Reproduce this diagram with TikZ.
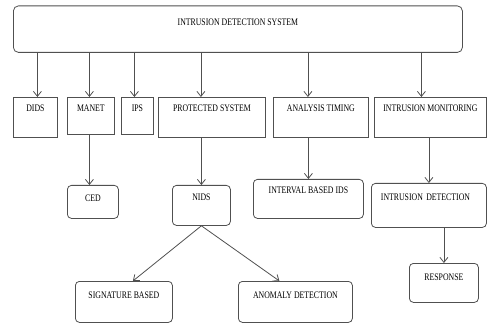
\documentclass[tikz,border=0pt]{standalone}
\usepackage{fontspec}
\usetikzlibrary{arrows.meta}
\newfontfamily\boxfont[FakeStretch=0.78]{Liberation Serif}
\definecolor{linegray}{HTML}{505050}

\begin{document}
\begin{tikzpicture}[x=1pt,y=-1pt]

      \useasboundingbox (0,0) rectangle (487,323);

      \begin{scope}[every node/.style={draw=linegray,line width=.8pt,anchor=north west,
          inner xsep=2pt,inner ysep=0pt,font=\boxfont\fontsize{10}{12}\selectfont}]
        % top
        \node[rounded corners=5pt,minimum width=449pt,text height=19.8pt,text depth=26.7pt] (ids) at (13,5.5) {INTRUSION DETECTION SYSTEM};
        % second row
        \node[minimum width=44pt,text height=14.3pt,text depth=25.7pt]  (dids)  at (13,97)  {DIDS};
        \node[minimum width=47pt,text height=14.3pt,text depth=22.7pt]  (manet) at (67,97)  {MANET};
        \node[minimum width=32pt,text height=14.3pt,text depth=22.7pt]  (ips)   at (121,97) {IPS};
        \node[minimum width=107pt,text height=14.3pt,text depth=25.7pt] (prot)  at (158,97) {PROTECTED SYSTEM};
        \node[minimum width=95pt,text height=14.3pt,text depth=25.7pt]  (anal)  at (273,97) {ANALYSIS TIMING};
        \node[minimum width=112pt,text height=14.3pt,text depth=25.7pt] (mon)   at (374,97) {INTRUSION MONITORING};
        % third row
        \node[rounded corners=4pt,minimum width=51pt,text height=16.3pt,text depth=16.7pt]  (ced)  at (67,185)  {CED};
        \node[rounded corners=4pt,minimum width=58pt,text height=15.3pt,text depth=24.7pt]  (nids) at (172,185) {NIDS};
        \node[rounded corners=4pt,minimum width=110pt,text height=14.3pt,text depth=24.7pt] (intv) at (253,179) {INTERVAL BASED IDS};
        \node[rounded corners=4pt,text width=96pt,inner xsep=9.5pt,align=left,
          text height=17.3pt,text depth=26.7pt] (idet) at (371,183) {INTRUSION DETECTION};
        % bottom
        \node[rounded corners=4pt,minimum width=69pt,text height=17.3pt,text depth=21.7pt]  (resp) at (409,263) {RESPONSE};
        \node[rounded corners=4pt,minimum width=97pt,text height=17.3pt,text depth=23.7pt]  (sig)  at (75,281)  {SIGNATURE BASED};
        \node[rounded corners=4pt,minimum width=114pt,text height=17.3pt,text depth=23.7pt] (anom) at (238,281) {ANOMALY DETECTION};
      \end{scope}

      \begin{scope}[every edge/.style={draw=linegray,line width=.8pt,
          -{Straight Barb[length=5pt,width=8pt]}}]
        \path ([xshift=2]dids.north |- ids.south)      edge ([xshift=2]dids.north);
        \path ([xshift=-1.5]manet.north |- ids.south)  edge ([xshift=-1.5]manet.north);
        \path ([xshift=-3]ips.north |- ids.south)      edge ([xshift=-3]ips.north);
        \path ([xshift=-11]prot.north |- ids.south)    edge ([xshift=-11]prot.north);
        \path ([xshift=-13]anal.north |- ids.south)    edge ([xshift=-13]anal.north);
        \path ([xshift=-9]mon.north |- ids.south)      edge ([xshift=-9]mon.north);
        \path ([xshift=-1.5]manet.south)               edge ([xshift=-1.5]manet.south |- ced.north);
        \path (prot.south -| nids.north)               edge (nids.north);
        \path (anal.south -| intv.north)               edge (intv.north);
        \path (mon.south -| idet.north)                edge (idet.north);
        \path (idet.south -| resp.north)               edge (resp.north);
        \path (nids.south)                             edge ([xshift=9]sig.north);
        \path (nids.south)                             edge ([xshift=-16]anom.north);
      \end{scope}

    \end{tikzpicture}
\end{document}
